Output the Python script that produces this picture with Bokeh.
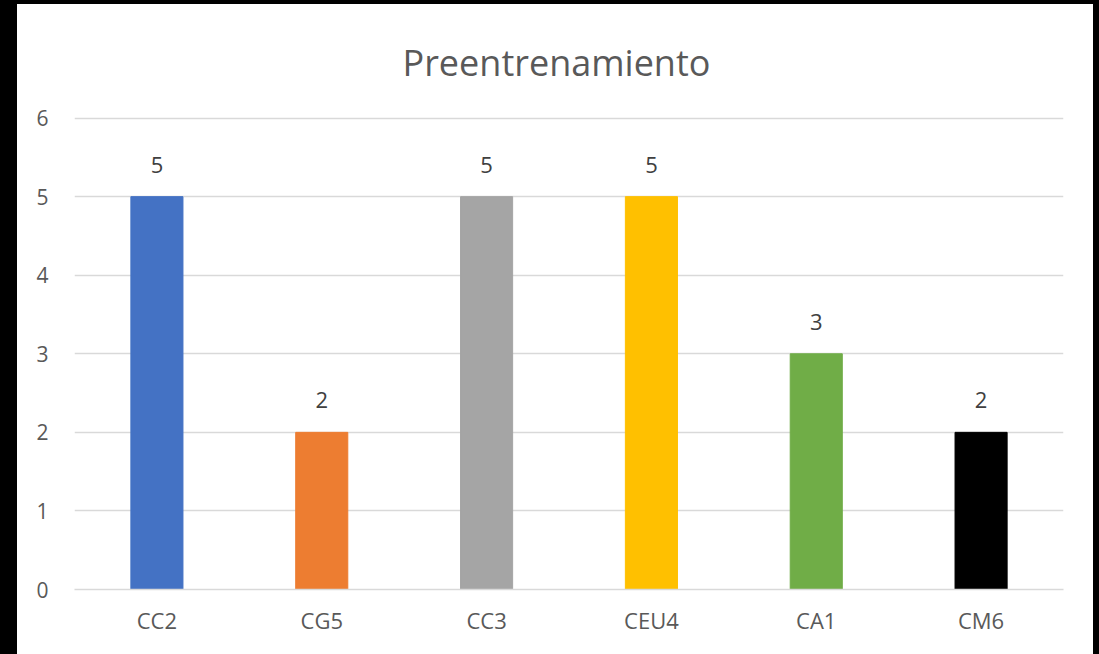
from bokeh.plotting import figure
from bokeh.models import ColumnDataSource, Range1d, FactorRange, FixedTicker, Div
from bokeh.layouts import row, column
from bokeh.core.properties import value
from bokeh.embed import file_html
from bokeh.resources import INLINE

categories = ["CC2", "CG5", "CC3", "CEU4", "CA1", "CM6"]
values = [5, 2, 5, 5, 3, 2]
colors = ["#4472C4", "#ED7D31", "#A5A5A5", "#FFC000", "#70AD47", "#000000"]
y_ticks = [0, 1, 2, 3, 4, 5, 6]
title_text = "Preentrenamiento"

FONT = "Open Sans"
TXT = "#595959"

src = ColumnDataSource(dict(cat=categories, val=values, col=colors,
                            lab=[str(v) for v in values]))

p = figure(width=1076, height=650, x_range=FactorRange(*categories, range_padding=0),
           y_range=Range1d(0, 6.02), output_backend="svg", toolbar_location=None,
           title=title_text, margin=0)
p.min_border_left = 57
p.min_border_right = 30
p.min_border_top = 112
p.min_border_bottom = 65
p.outline_line_color = None
p.background_fill_color = "white"
p.border_fill_color = "white"

p.title.align = "left"
p.title.offset = 328
p.title.standoff = 60
p.title.text_font = FONT
p.title.text_font_size = "36px"
p.title.text_font_style = "normal"
p.title.text_color = TXT

p.vbar(x="cat", top="val", width=0.316, color="col", source=src)
p.text(x="cat", y="val", text="lab", source=src, text_align="center",
       text_baseline="alphabetic", y_offset=-32, text_font=value(FONT),
       text_font_size="22px", text_color="#404040")

p.xgrid.grid_line_color = None
p.ygrid.grid_line_color = "#D9D9D9"
p.ygrid.grid_line_width = 1.5
p.yaxis.ticker = FixedTicker(ticks=y_ticks)
p.yaxis.axis_line_color = None
p.yaxis.major_tick_line_color = None
p.yaxis.minor_tick_line_color = None
p.yaxis.major_label_standoff = 20
p.yaxis.major_label_text_font = FONT
p.yaxis.major_label_text_font_size = "21px"
p.yaxis.major_label_text_color = TXT

p.xaxis.axis_line_color = "#D9D9D9"
p.xaxis.axis_line_width = 1.5
p.xaxis.major_tick_line_color = None
p.xaxis.minor_tick_line_color = None
p.xaxis.major_label_standoff = 9
p.xaxis.major_label_text_font = FONT
p.xaxis.major_label_text_font_size = "22px"
p.xaxis.major_label_text_color = TXT

dark = {"background-color": "black"}
layout = column(
    Div(width=1099, height=4, styles=dark, margin=0),
    row(Div(width=17, height=650, styles=dark, margin=0), p,
        Div(width=6, height=650, styles=dark, margin=0), spacing=0, margin=0),
    spacing=0, margin=0,
)

open("out.html", "w").write(file_html(layout, INLINE))
